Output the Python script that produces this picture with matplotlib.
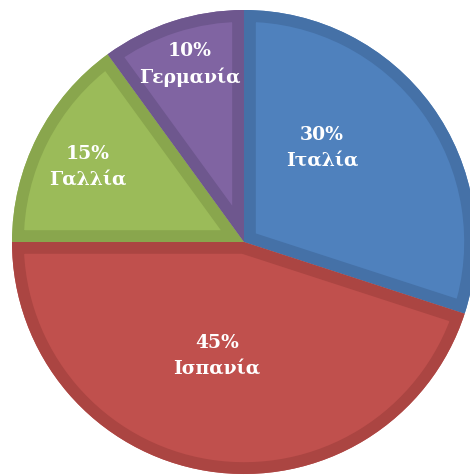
import matplotlib
matplotlib.use("Agg")
import matplotlib.pyplot as plt

countries = ["Ιταλία", "Ισπανία", "Γαλλία", "Γερμανία"]
shares = [30, 45, 15, 10]
fill_colors = ["#4F81BD", "#C0504D", "#9BBB59", "#8064A2"]
edge_colors = ["#4571A7", "#AB4542", "#89A64D", "#6E578E"]
label_pos = [(0.336, 0.410), (-0.116, -0.487), (-0.672, 0.328), (-0.233, 0.770)]

R = 232.0
fig = plt.figure(figsize=(4.7, 4.77), dpi=100)
ax = fig.add_axes([0, 0, 1, 1])
ax.set_xlim(-244 / R, 226 / R)
ax.set_ylim(-234 / R, 243 / R)
wedges, _ = ax.pie(shares, colors=fill_colors, startangle=90, counterclock=False,
                   radius=1.0, frame=True, wedgeprops=dict(linewidth=0))
for w, ec in zip(wedges, edge_colors):
    band = matplotlib.patches.Wedge(w.center, w.r, w.theta1, w.theta2,
                                    facecolor="none", edgecolor=ec, linewidth=17)
    ax.add_patch(band)
    band.set_clip_path(w)

for name, val, (x, y) in zip(countries, shares, label_pos):
    ax.text(x, y, f"{val}%\n{name}", ha="center", va="center", color="white",
            fontsize=13.5, fontweight="bold", family="DejaVu Serif", linespacing=1.5)

ax.set_aspect("auto")
ax.set_xlim(-244 / R, 226 / R)
ax.set_ylim(-234 / R, 243 / R)
ax.axis("off")
fig.savefig("out.png", dpi=100, facecolor="white")
